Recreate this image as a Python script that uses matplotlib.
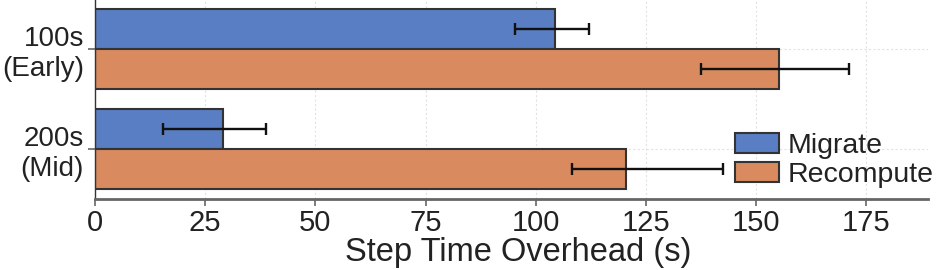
import matplotlib
matplotlib.use("Agg")
import matplotlib.pyplot as plt
import numpy as np

plt.rcParams['font.family'] = ['Liberation Sans', 'DejaVu Sans']

categories = ["100s\n(Early)", "200s\n(Mid)"]
series = ["Migrate", "Recompute"]
migrate = [104.3, 29.1]
migrate_lo = [95.2, 15.5]
migrate_hi = [112.1, 38.9]
recompute = [155.1, 120.5]
recompute_lo = [137.6, 108.3]
recompute_hi = [171.0, 142.5]
xticks = [0, 25, 50, 75, 100, 125, 150, 175]

colors = ["#5a7ec3", "#d98b5f"]

fig = plt.figure(figsize=(9.46, 2.70), dpi=100)
ax = fig.add_axes([95/946, 71/270, (928-95)/946, 199/270])

y = np.arange(len(categories))
h = 0.4
vals = [migrate, recompute]
los = [migrate_lo, recompute_lo]
his = [migrate_hi, recompute_hi]
offs = [-h/2, h/2]
for i in range(2):
    v = np.array(vals[i]); lo = np.array(los[i]); hi = np.array(his[i])
    ax.barh(y + offs[i], v, height=h, color=colors[i], edgecolor="#333333",
            linewidth=1.5, label=series[i], zorder=2)
    ax.errorbar(v, y + offs[i], xerr=[v - lo, hi - v], fmt='none', ecolor='#111111',
                elinewidth=1.7, capsize=4.5, capthick=1.7, zorder=3)

ax.set_ylim(1.5, -0.49)
ax.set_xlim(0, 189)
ax.set_yticks(y)
ax.set_yticklabels(categories, fontsize=20)
ax.set_xticks(xticks)
ax.set_xticklabels([str(t) for t in xticks], fontsize=21)
ax.set_xlabel("Step Time Overhead (s)", fontsize=23.5, color="#222222", labelpad=0)
ax.xaxis.label.set_x(0.508)
ax.tick_params(colors="#222222", labelcolor="#222222")
ax.tick_params(axis='both', length=5, width=1.2, color="#666666", pad=3)
ax.tick_params(axis='x', pad=2)

ax.grid(True, linestyle=(0, (2, 2)), color="#e2e2e2", linewidth=0.8, zorder=0)
ax.set_axisbelow(True)
for s in ["top", "right"]:
    ax.spines[s].set_visible(False)
ax.spines["left"].set_color("#333333")
ax.spines["left"].set_linewidth(1.0)
ax.spines["bottom"].set_color("#666666")
ax.spines["bottom"].set_linewidth(2.0)

leg = ax.legend(loc="lower left", fontsize=20.5, frameon=False, handlelength=1.55,
                handleheight=0.7, borderpad=0, borderaxespad=0, handletextpad=0.3,
                labelspacing=0.1,
                bbox_to_anchor=(735/946, (270-188)/270), bbox_transform=fig.transFigure)
for t in leg.get_texts():
    t.set_color("#222222")

fig.savefig("out.png", dpi=100)
